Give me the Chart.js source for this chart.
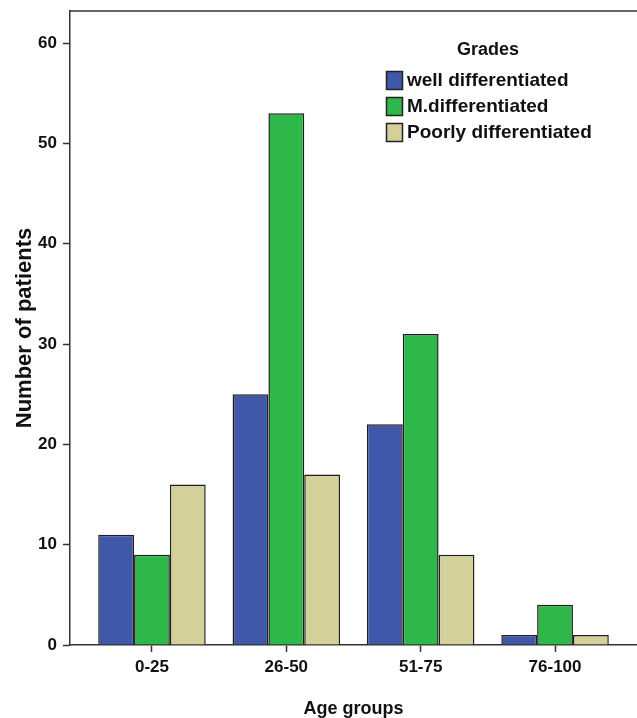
<!DOCTYPE html>
<html>
<head>
<meta charset="utf-8">
<script src="https://cdn.jsdelivr.net/npm/chart.js@4.4.1/dist/chart.umd.min.js"></script>
<style>
  body { margin: 0; background: #fff; }
  #wrap { width: 637px; height: 718px; }
</style>
</head>
<body>
<div id="wrap"><canvas id="graph"></canvas></div>
<script>
const ageGroups = ["0-25", "26-50", "51-75", "76-100"];
const wellDiff = [11, 25, 22, 1];
const moderateDiff = [9, 53, 31, 4];
const poorlyDiff = [16, 17, 9, 1];
const yTicks = [0, 10, 20, 30, 40, 50, 60];

const FONT = "'Liberation Sans', Arial, sans-serif";

function points(values) {
  return values.map((v, i) => ({ x: i + 1, y: v }));
}

// frame line on top of the plot and the SPSS-style legend box
const framePlugin = {
  id: "frame",
  afterDraw(chart) {
    const ctx = chart.ctx;
    const a = chart.chartArea;
    ctx.save();
    ctx.strokeStyle = "#333";
    ctx.lineWidth = 1.5;
    ctx.beginPath();
    ctx.moveTo(a.left, a.top);
    ctx.lineTo(a.right, a.top);
    ctx.stroke();

    // legend
    const lx = a.left + 316;
    const ly = a.top + 60;
    ctx.fillStyle = "#111";
    ctx.font = "bold 18px " + FONT;
    ctx.textAlign = "center";
    ctx.textBaseline = "middle";
    ctx.fillText("Grades", a.left + 418, a.top + 39);
    ctx.textAlign = "left";
    ctx.font = "bold 19px " + FONT;
    chart.data.datasets.forEach((ds, i) => {
      const y = ly + i * 26;
      ctx.fillStyle = ds.backgroundColor;
      ctx.fillRect(lx, y, 17, 19);
      ctx.strokeStyle = "#222";
      ctx.lineWidth = 1.5;
      ctx.strokeRect(lx + 0.5, y + 0.5, 16, 18);
      ctx.fillStyle = "#111";
      ctx.fillText(ds.label, lx + 21, y + 10);
    });
    ctx.restore();
  },
};

new Chart(document.getElementById("graph").getContext("2d"), {
  type: "bar",
  data: {
    datasets: [
      {
        label: "well differentiated",
        data: points(wellDiff),
        backgroundColor: "#3f58aa",
        borderColor: "#1e1e1e",
        borderWidth: 1.5,
      },
      {
        label: "M.differentiated",
        data: points(moderateDiff),
        backgroundColor: "#2eb84a",
        borderColor: "#1e1e1e",
        borderWidth: 1.5,
      },
      {
        label: "Poorly differentiated",
        data: points(poorlyDiff),
        backgroundColor: "#d4d09a",
        borderColor: "#1e1e1e",
        borderWidth: 1.5,
      },
    ],
  },
  options: {
    responsive: true,
    maintainAspectRatio: false,
    animation: false,
    categoryPercentage: 0.8,
    barPercentage: 1.0,
    layout: { padding: { top: 11, right: 0, left: 0, bottom: 0 } },
    plugins: {
      legend: { display: false },
      tooltip: { enabled: false },
    },
    scales: {
      x: {
        type: "linear",
        min: 0.39,
        max: 4.61,
        offset: false,
        afterBuildTicks: (scale) => {
          scale.ticks = ageGroups.map((_, i) => ({ value: i + 1 }));
        },
        afterFit: (scale) => {
          scale.height = 73;
          scale.paddingLeft = 0;
          scale.paddingRight = 0;
        },
        grid: {
          offset: false,
          drawOnChartArea: false,
          tickLength: 7,
          tickColor: "#333",
          tickWidth: 1.5,
        },
        border: { display: true, color: "#333", width: 1.5 },
        ticks: {
          padding: 5,
          color: "#111",
          font: { family: FONT, size: 17, weight: "bold" },
          callback: (v) => ageGroups[v - 1],
        },
        title: {
          display: true,
          text: "Age groups",
          color: "#111",
          font: { family: FONT, size: 18, weight: "bold", lineHeight: 0.8 },
          padding: { top: 0, bottom: 2 },
        },
      },
      y: {
        min: 0,
        max: 63.2,
        afterBuildTicks: (scale) => {
          scale.ticks = yTicks.map((v) => ({ value: v }));
        },
        afterFit: (scale) => {
          scale.width = 70;
          scale.paddingTop = 0;
          scale.paddingBottom = 0;
        },
        grid: {
          drawOnChartArea: false,
          tickLength: 7,
          tickColor: "#333",
          tickWidth: 1.5,
        },
        border: { display: true, color: "#333", width: 1.5 },
        ticks: {
          padding: 6,
          color: "#111",
          font: { family: FONT, size: 17, weight: "bold" },
        },
        title: {
          display: true,
          text: "Number of patients",
          color: "#111",
          font: { family: FONT, size: 22, weight: "bold" },
          padding: { top: 12, bottom: 0 },
        },
      },
    },
  },
  plugins: [framePlugin],
});
</script>
</body>
</html>
